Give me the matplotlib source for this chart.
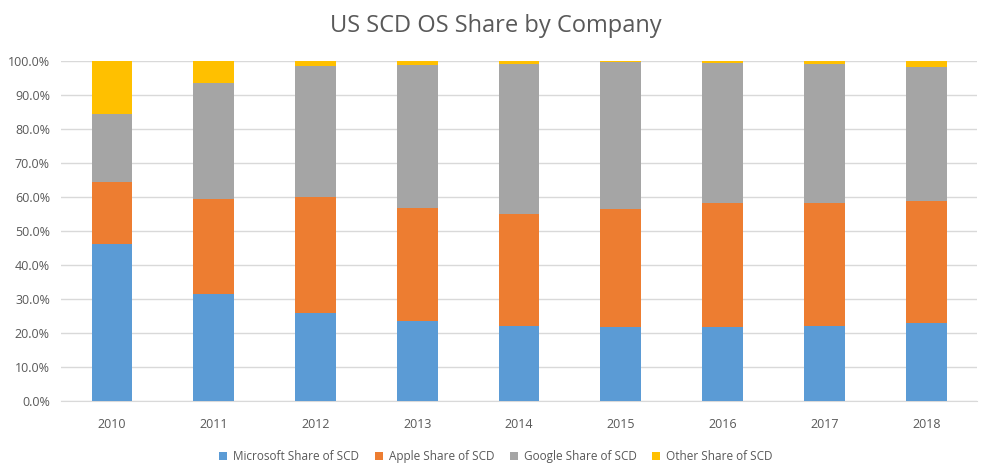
import numpy as np
import matplotlib.pyplot as plt
from matplotlib.ticker import PercentFormatter

years = ['2010', '2011', '2012', '2013', '2014', '2015', '2016', '2017', '2018']
microsoft = [46.2, 31.4, 25.9, 23.5, 22.1, 21.7, 21.7, 22.1, 22.9]
apple = [18.1, 28.0, 34.0, 33.2, 32.8, 34.7, 36.5, 36.1, 35.9]
google = [20.1, 34.0, 38.6, 42.0, 44.2, 43.3, 41.1, 40.9, 39.3]
other = [15.6, 6.6, 1.5, 1.3, 0.9, 0.3, 0.7, 0.9, 1.9]

series = [
    ('Microsoft Share of SCD', microsoft, '#5b9bd5'),
    ('Apple Share of SCD', apple, '#ed7d31'),
    ('Google Share of SCD', google, '#a5a5a5'),
    ('Other Share of SCD', other, '#ffc000'),
]

plt.rcParams['font.family'] = ['Open Sans', 'DejaVu Sans']

fig = plt.figure(figsize=(9.92, 4.74), dpi=100)
ax = fig.add_axes([0.0615, 0.154, 0.9235, 0.718])

x = np.arange(len(years))
bottom = np.zeros(len(years))
for name, vals, color in series:
    vals = np.array(vals) / 100.0
    ax.bar(x, vals, 0.4, bottom=bottom, color=color, label=name, zorder=3)
    bottom += vals

ax.set_xlim(-0.5, len(years) - 0.5)
ax.set_ylim(0, 1)
ax.set_yticks(np.arange(0, 1.01, 0.1))
ax.yaxis.set_major_formatter(PercentFormatter(1.0, decimals=1))
ax.set_xticks(x)
ax.set_xticklabels(years)
ax.grid(axis='y', color='#d9d9d9', linewidth=1, zorder=0)
for s in ['top', 'right', 'left']:
    ax.spines[s].set_visible(False)
ax.spines['bottom'].set_color('#d9d9d9')
ax.tick_params(axis='both', length=0, labelsize=9, colors='#595959', pad=8)
ax.tick_params(axis='x', pad=12)

fig.text(0.5, 0.945, 'US SCD OS Share by Company', fontsize=17,
         color='#595959', ha='center', va='center')

fig.legend(loc='lower center', ncol=4, frameon=False, fontsize=8.5,
           bbox_to_anchor=(0.5, 0.0), handlelength=0.7, handleheight=0.7,
           handletextpad=0.5, columnspacing=1.3, labelcolor='#595959')

fig.savefig('out.png', dpi=100)
